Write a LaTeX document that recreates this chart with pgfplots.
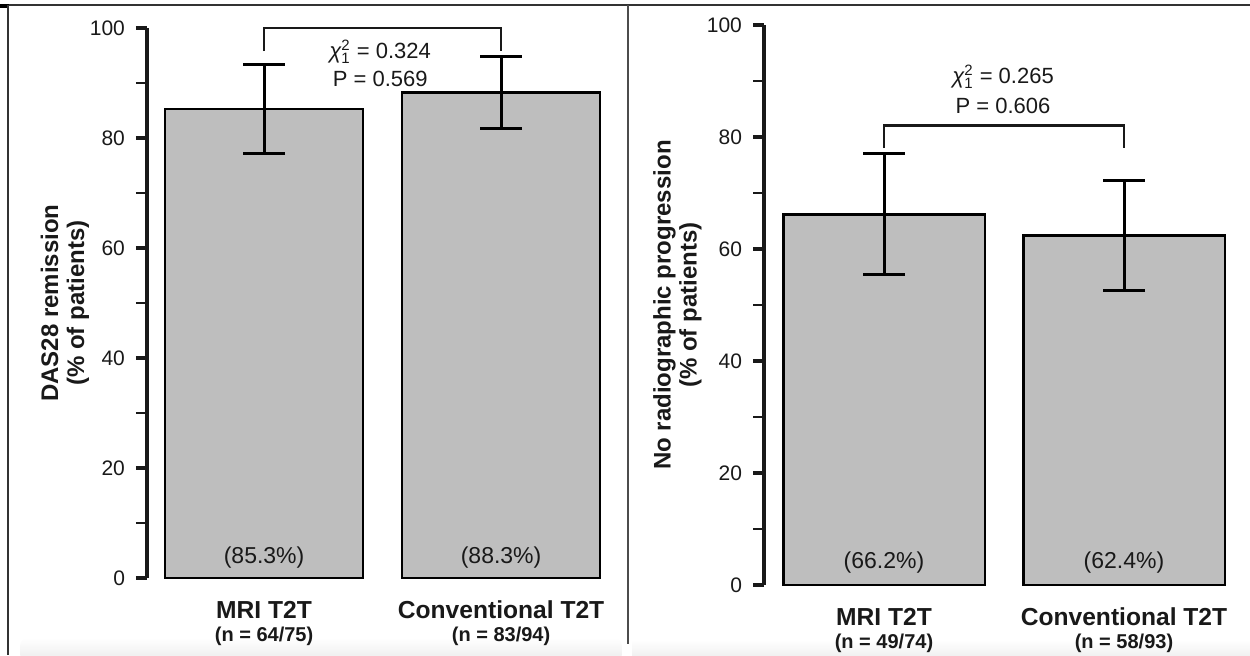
\documentclass[border=0pt]{standalone}
\usepackage{fontspec}
\setmainfont{Liberation Sans}
\usepackage{pgfplots}
\pgfplotsset{compat=1.18}
\definecolor{barfill}{RGB}{190,190,190}
\definecolor{ink}{RGB}{25,25,25}

% 1 px of the reference = 0.5pt
\pgfplotsset{
  panel/.style={
    scale only axis, clip=false,
    axis y line*=left, axis x line*=bottom,
    x axis line style={draw=none},
    y axis line style={line width=1.6pt, ink},
    ymin=0, ymax=100, ytick={0,20,...,100},
    minor y tick num=1,
    tick align=outside,
    major tick length=5.5pt, minor tick length=5.5pt,
    major tick style={line width=1.6pt, ink},
    minor tick style={line width=0.7pt, ink},
    xtick={0,1}, xtick style={draw=none},
    /pgf/number format/assume math mode=true,
    yticklabel style={font=\fontsize{10.5}{11}\selectfont, text=ink, xshift=-2pt},
    xticklabel style={align=center, text=ink, yshift=-2.5pt},
    ylabel style={font=\fontsize{12}{13}\selectfont\bfseries, align=center, anchor=center, text=ink},
  },
  bars/.style={
    ybar, fill=barfill, draw=black, line width=1.3pt,
    error bars/.cd, y dir=both, y explicit,
    error bar style={line width=1.5pt, black},
    error mark options={rotate=90, mark size=10.5pt, line width=1.5pt, black},
  },
}
\tikzset{
  stat/.style={anchor=base, inner sep=0pt, font=\fontsize{11}{12}\selectfont, text=ink},
  pct/.style={font=\fontsize{11.5}{12}\selectfont, text=ink},
}
\newcommand{\chisq}{{\itshape χ}$^{\mbox{\fontsize{7.5}{8}\selectfont 2}}_{\mbox{\fontsize{7.5}{8}\selectfont 1}}$}
\newcommand{\xl}[2]{\fontsize{12.3}{12.3}\selectfont\bfseries #1\\[-0.5pt]\fontsize{10}{10.5}\selectfont\bfseries #2}

\begin{document}
\begin{tikzpicture}
\useasboundingbox (0,0) rectangle (625pt,-327.5pt);

% frame of the figure
\begin{scope}[x=0.5pt, y=-0.5pt]
  \shade[top color=white, bottom color=black!8, rounded corners=4pt] (20,638) rectangle (622,662);
  \shade[top color=white, bottom color=black!8] (632,640) rectangle (1255,662);
  \draw[line width=0.8pt, black!80] (8,5) -- (1250,5);
  \draw[line width=2pt, black] (0,6) -- (9,6);
  \draw[line width=0.8pt, black!80] (8,5) -- (8,655);
  \draw[line width=0.6pt, black!70] (628,5) -- (628,644);
\end{scope}

% left panel: DAS28 remission
\begin{axis}[panel,
  at={(73.5pt,-289pt)}, anchor=south west,
  x=118.5pt, y=2.75pt,
  xmin=-0.494, xmax=1.45,
  bar width=0.835,
  xticklabels={{\xl{MRI T2T}{(n = 64/75)}},{\xl{Conventional T2T}{(n = 83/94)}}},
  ylabel={DAS28 remission\\(\% of patients)},
  ylabel style={at={(axis description cs:-0.178,0.5)}},
]
\addplot[bars] coordinates {(0,85.3) +- (0,8.1) (1,88.3) +- (0,6.6)};
\draw[line width=1.4pt, ink] (axis cs:0,95.8) -- (axis cs:0,100) -- (axis cs:1,100) -- (axis cs:1,95.8);
\node[stat] at (axis cs:0.49,94.5) {\chisq{} = 0.324};
\node[stat] at (axis cs:0.49,89.4) {P = 0.569};
\node[pct] at (axis cs:0,3.8) {(85.3\%)};
\node[pct] at (axis cs:1,3.8) {(88.3\%)};
\end{axis}

% right panel: no radiographic progression
\begin{axis}[panel,
  at={(382pt,-292.5pt)}, anchor=south west,
  x=120pt, y=2.8pt,
  xmin=-0.5, xmax=1.45,
  bar width=0.84,
  xticklabels={{\xl{MRI T2T}{(n = 49/74)}},{\xl{Conventional T2T}{(n = 58/93)}}},
  ylabel={No radiographic progression\\(\% of patients)},
  ylabel style={at={(axis description cs:-0.185,0.5)}},
]
\addplot[bars] coordinates {(0,66.2) +- (0,10.8) (1,62.4) +- (0,9.8)};
\draw[line width=1.4pt, ink] (axis cs:0,78) -- (axis cs:0,82) -- (axis cs:1,82) -- (axis cs:1,78);
\node[stat] at (axis cs:0.496,89.6) {\chisq{} = 0.265};
\node[stat] at (axis cs:0.496,84.2) {P = 0.606};
\node[pct] at (axis cs:0,4.1) {(66.2\%)};
\node[pct] at (axis cs:1,4.1) {(62.4\%)};
\end{axis}
\end{tikzpicture}
\end{document}
